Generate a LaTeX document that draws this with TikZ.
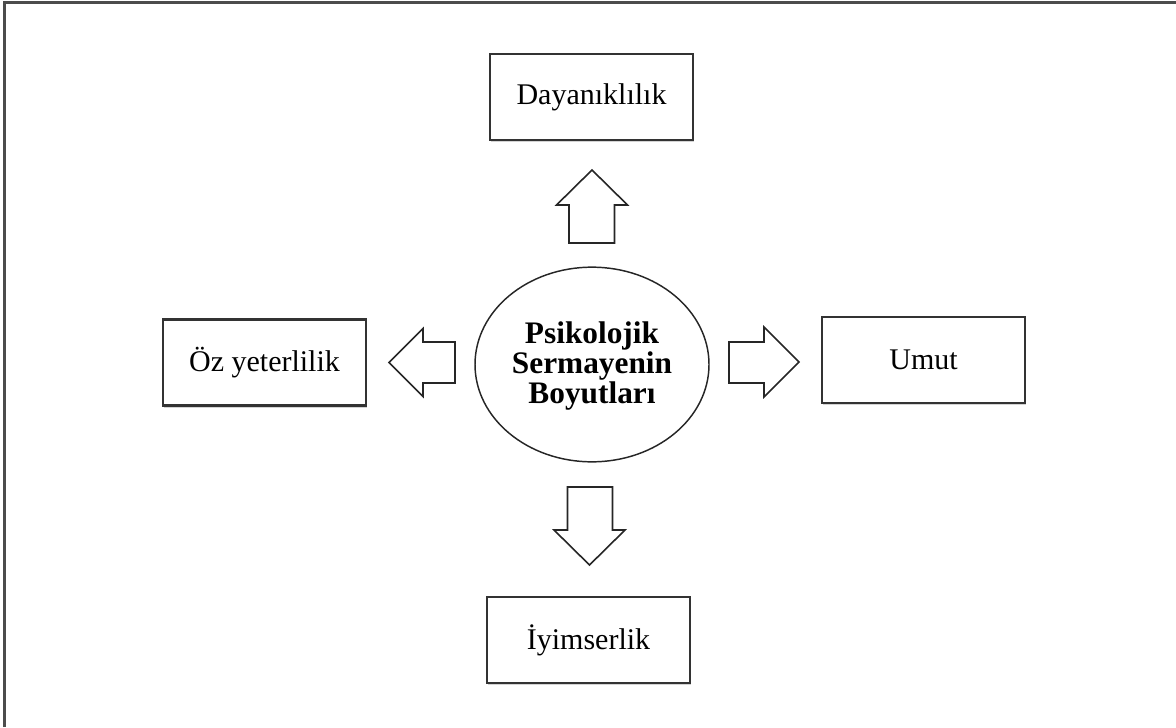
\documentclass[tikz,border=0pt]{standalone}
\usepackage{fontspec}
\setmainfont{Liberation Serif}
\usetikzlibrary{shapes.geometric,shadows}
\begin{document}
\begin{tikzpicture}[x=0.75pt,y=-0.75pt,
  dimbox/.style={draw=black!80, line width=1.6pt, fill=white,
    minimum width=152.25pt, minimum height=64.5pt, inner sep=0pt,
    font=\fontsize{22.5}{24}\selectfont,
    drop shadow={shadow xshift=1pt, shadow yshift=-1.5pt, opacity=0.35}},
  core/.style={draw=black!85, line width=1.1pt, ellipse, fill=white,
    minimum width=175.5pt, minimum height=146pt, inner sep=0pt,
    align=center, font=\fontsize{23.5}{22.5}\selectfont\bfseries},
  blockarrow/.style={draw=black!85, line width=1.2pt, fill=white, line join=miter},
  frameline/.style={draw=black!70, line width=2pt}
]
\useasboundingbox (0,0) rectangle (1176,727);

% page frame (left and top edges only)
\draw[frameline] (4.5,727) -- (4.5,2.5) -- (1176,2.5);

% central concept
\node[core] (center) at (592,364.5) {};
\node[align=center, font=\fontsize{23.5}{22.5}\selectfont\bfseries, inner sep=0pt]
  (centertext) at (592,366) {Psikolojik\\Sermayenin\\Boyutları};

% the four dimensions
\node[dimbox] (resilience) at (591.5,97)  {\raisebox{-2pt}{Dayanıklılık}};
\node[dimbox] (efficacy)   at (264.5,362.5) {Öz yeterlilik};
\node[dimbox] (hope)       at (923.5,360) {Umut};
\node[dimbox] (optimism)   at (588.5,640) {\raisebox{-2pt}{İyimserlik}};

% block arrows pointing outward from the centre
\draw[blockarrow] (569,243) -- (569,205) -- (556.5,205) -- (592,170)
  -- (627.5,205) -- (614.5,205) -- (614.5,243) -- cycle;
\draw[blockarrow] (455,342) -- (423,342) -- (423,328.5) -- (389,362.5)
  -- (423,396.5) -- (423,383) -- (455,383) -- cycle;
\draw[blockarrow] (729,342) -- (764,342) -- (764,327) -- (799,362)
  -- (764,397) -- (764,383) -- (729,383) -- cycle;
\draw[blockarrow] (567.5,487) -- (567.5,530) -- (554,530) -- (589.5,565)
  -- (625,530) -- (612.5,530) -- (612.5,487) -- cycle;
\end{tikzpicture}
\end{document}
